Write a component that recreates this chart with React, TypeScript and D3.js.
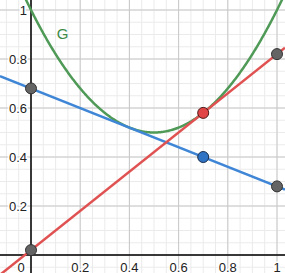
import * as d3 from "d3";

// lines and points
const blueLine = { b: 0.68, m: -0.4 };
const redLine = { b: 0.02, m: 0.8 };
const parabola = { a: 2, h: 0.5, k: 0.5 };
const greyPoints: [number, number][] = [
  [0, 0.68],
  [1, 0.28],
  [0, 0.02],
  [1, 0.82],
];
const bluePoint: [number, number] = [0.7, 0.4];
const redPoint: [number, number] = [0.7, 0.58];
const xTicks = [0.2, 0.4, 0.6, 0.8, 1];
const yTicks = [0.2, 0.4, 0.6, 0.8, 1];

export default function App() {
  const W = 285;
  const H = 273;
  const x = d3.scaleLinear().domain([0, 1]).range([31, 277]);
  const y = d3.scaleLinear().domain([0, 1]).range([255, 10]);
  const x0 = x.invert(0), x1 = x.invert(W);
  const y0 = y.invert(H), y1 = y.invert(0);

  const minorX = d3.range(Math.ceil(x0 / 0.05), Math.floor(x1 / 0.05) + 1).map((i) => i * 0.05);
  const minorY = d3.range(Math.ceil(y0 / 0.05), Math.floor(y1 / 0.05) + 1).map((i) => i * 0.05);
  const majorX = minorX.filter((_, i) => Math.round(minorX[i] / 0.05) % 4 === 0);
  const majorY = minorY.filter((_, i) => Math.round(minorY[i] / 0.05) % 4 === 0);

  const line = d3.line<number>().x((d) => x(d)).y((d) => y(d));
  const lineFn = (l: { b: number; m: number }) =>
    d3.line<number>().x((d) => x(d)).y((d) => y(l.b + l.m * d))([x0, x1]) as string;
  const gx = d3.range(0, 401).map((i) => -0.1 + (1.2 * i) / 400);
  const gPath = d3
    .line<number>()
    .x((d) => x(d))
    .y((d) => y(parabola.a * (d - parabola.h) ** 2 + parabola.k))(gx) as string;
  void line;

  const font = "Arial, 'Liberation Sans', sans-serif";
  const halo = { stroke: "white", strokeWidth: 3, paintOrder: "stroke" as const };

  return (
    <svg width={W} height={H} style={{ position: "absolute", left: 0, top: 0, background: "white" }}>
      <defs>
        <clipPath id="c">
          <rect x={0} y={0} width={W} height={H} />
        </clipPath>
      </defs>
      <g clipPath="url(#c)">
        {minorX.map((v) => (
          <line key={"mx" + v} x1={x(v)} x2={x(v)} y1={0} y2={H} stroke="#ebebeb" strokeWidth={1} />
        ))}
        {minorY.map((v) => (
          <line key={"my" + v} y1={y(v)} y2={y(v)} x1={0} x2={W} stroke="#ebebeb" strokeWidth={1} />
        ))}
        {majorX.map((v) => (
          <line key={"Mx" + v} x1={x(v)} x2={x(v)} y1={0} y2={H} stroke="#c8c8c8" strokeWidth={1} />
        ))}
        {majorY.map((v) => (
          <line key={"My" + v} y1={y(v)} y2={y(v)} x1={0} x2={W} stroke="#c8c8c8" strokeWidth={1} />
        ))}
        <line x1={x(0)} x2={x(0)} y1={0} y2={H} stroke="black" strokeWidth={1.5} />
        <line y1={y(0)} y2={y(0)} x1={0} x2={W} stroke="black" strokeWidth={1.5} />

        {yTicks.map((v) => (
          <text key={"yt" + v} x={x(0) - 4} y={y(v) + 5} textAnchor="end" fontSize={13} fontFamily={font} fill="#222" {...halo}>
            {d3.format("~g")(v)}
          </text>
        ))}
        {xTicks.map((v) => (
          <text key={"xt" + v} x={x(v)} y={y(0) + 17} textAnchor="middle" fontSize={13} fontFamily={font} fill="#222" {...halo}>
            {d3.format("~g")(v)}
          </text>
        ))}
        <text x={x(0) - 10} y={y(0) + 17} textAnchor="middle" fontSize={13} fontFamily={font} fill="#222" {...halo}>
          0
        </text>

        <path d={gPath} fill="none" stroke="#4f9a57" strokeWidth={2.5} />
        <path d={lineFn(blueLine)} fill="none" stroke="#3f86d6" strokeWidth={2.5} />
        <path d={lineFn(redLine)} fill="none" stroke="#e05252" strokeWidth={2.5} />

        <text x={x(0.105)} y={y(0.9) + 4} fontSize={15} fontFamily={font} fill="#3d8a46">
          G
        </text>

        {greyPoints.map(([px, py], i) => (
          <circle key={"gp" + i} cx={x(px)} cy={y(py)} r={5.5} fill="#646464" stroke="#333" strokeWidth={1} />
        ))}
        <circle cx={x(bluePoint[0])} cy={y(bluePoint[1])} r={5.5} fill="#2f73c4" stroke="#1a2f4d" strokeWidth={1} />
        <circle cx={x(redPoint[0])} cy={y(redPoint[1])} r={5.5} fill="#e04444" stroke="#4d1a1a" strokeWidth={1} />
      </g>
    </svg>
  );
}
